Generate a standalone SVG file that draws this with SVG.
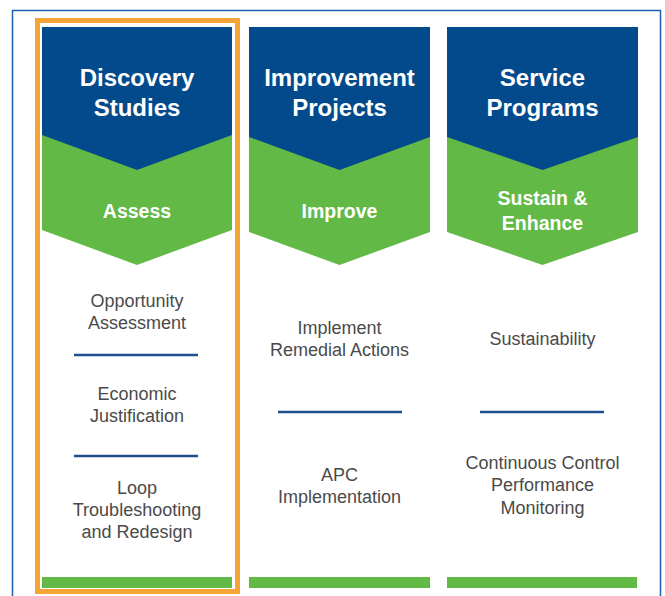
<svg xmlns="http://www.w3.org/2000/svg" width="665" height="596" viewBox="0 0 665 596">
<style>
.hd{fill:#034a8c}
.gr{fill:#62b946}
.ht{font-family:"Liberation Sans",Arial,sans-serif;font-weight:bold;font-size:24px;fill:#fff;text-anchor:middle}
.gt{font-family:"Liberation Sans",Arial,sans-serif;font-weight:bold;font-size:19.5px;fill:#fff;text-anchor:middle}
.bt{font-family:"Liberation Sans",Arial,sans-serif;font-size:18px;fill:#4a4a4a;text-anchor:middle}
.dv{stroke:#1f4e8c;stroke-width:2.5}
</style>
<rect x="0" y="0" width="665" height="596" fill="#fff"/>
<path d="M12.5 600 V10.5 H660.5 V600" fill="none" stroke="#1d5fb0" stroke-width="1.5"/>
<g id="col1">
<polygon class="gr" points="42,120 232,120 232,230 137,265 42,230"/>
<polygon class="hd" points="42,27 232,27 232,135 137,170 42,135"/>
<text class="ht" x="137" y="86">Discovery</text>
<text class="ht" x="137" y="116">Studies</text>
<text class="gt" x="137" y="218">Assess</text>
<text class="bt" x="137" y="307">Opportunity</text>
<text class="bt" x="137" y="329">Assessment</text>
<line class="dv" x1="74" y1="355" x2="198" y2="355"/>
<text class="bt" x="137" y="400">Economic</text>
<text class="bt" x="137" y="422">Justification</text>
<line class="dv" x1="74" y1="456" x2="198" y2="456"/>
<text class="bt" x="137" y="494">Loop</text>
<text class="bt" x="137" y="516">Troubleshooting</text>
<text class="bt" x="137" y="538">and Redesign</text>
<rect class="gr" x="42" y="577" width="190" height="11"/>
</g>
<g id="col2">
<polygon class="gr" points="249,120 430,120 430,232 339.5,265 249,232"/>
<polygon class="hd" points="249,27 430,27 430,137 339.5,170 249,137"/>
<text class="ht" x="339.5" y="86">Improvement</text>
<text class="ht" x="339.5" y="116">Projects</text>
<text class="gt" x="339.5" y="218">Improve</text>
<text class="bt" x="339.5" y="334">Implement</text>
<text class="bt" x="339.5" y="356">Remedial Actions</text>
<line class="dv" x1="278" y1="412" x2="402" y2="412"/>
<text class="bt" x="339.5" y="481">APC</text>
<text class="bt" x="339.5" y="503">Implementation</text>
<rect class="gr" x="249" y="577" width="181" height="11"/>
</g>
<g id="col3">
<polygon class="gr" points="447,120 638,120 638,232 542.5,265 447,232"/>
<polygon class="hd" points="447,27 638,27 638,137 542.5,170 447,137"/>
<text class="ht" x="542.5" y="86">Service</text>
<text class="ht" x="542.5" y="116">Programs</text>
<text class="gt" x="542.5" y="205">Sustain &amp;</text>
<text class="gt" x="542.5" y="230">Enhance</text>
<text class="bt" x="542.5" y="345">Sustainability</text>
<line class="dv" x1="480" y1="412" x2="604" y2="412"/>
<text class="bt" x="542.5" y="469">Continuous Control</text>
<text class="bt" x="542.5" y="491">Performance</text>
<text class="bt" x="542.5" y="514">Monitoring</text>
<rect class="gr" x="447" y="577" width="190" height="11"/>
</g>
<g id="highlight">
<rect x="37.5" y="20.5" width="200" height="571" fill="none" stroke="#f5a535" stroke-width="5"/>
</g>
</svg>
